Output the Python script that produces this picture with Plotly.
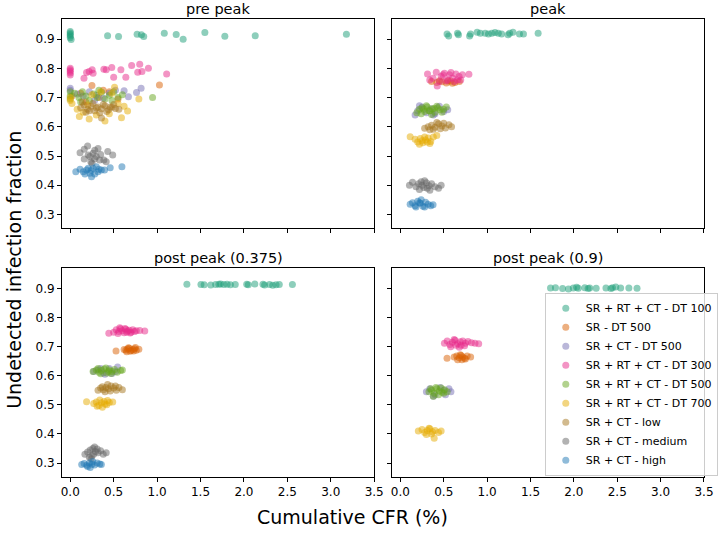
import plotly.graph_objects as go

# ---------------- categories / ticks ----------------
SERIES = ["SR + RT + CT - DT 100", "SR - DT 500", "SR + CT - DT 500",
          "SR + RT + CT - DT 300", "SR + RT + CT - DT 500", "SR + RT + CT - DT 700",
          "SR + CT - low", "SR + CT - medium", "SR + CT - high"]
COLORS = ["#1b9e77", "#d95f02", "#7570b3", "#e7298a", "#66a61e", "#e6ab02",
          "#a6761d", "#666666", "#1f77b4"]
PANEL_TITLES = ["pre peak", "peak", "post peak (0.375)", "post peak (0.9)"]
X_TICKS = [0.0, 0.5, 1.0, 1.5, 2.0, 2.5, 3.0, 3.5]
Y_TICKS = [0.3, 0.4, 0.5, 0.6, 0.7, 0.8, 0.9]

# ---------------- pre peak ----------------
pre_dt100_x = [0.0, 0.0, 0.0, 0.0, 0.0, 0.01, 0.43, 0.556, 0.77, 0.82, 0.846, 1.083, 1.22, 1.30, 1.55, 1.78, 2.13, 3.18]
pre_dt100_y = [0.926, 0.921, 0.916, 0.911, 0.905, 0.899, 0.912, 0.909, 0.917, 0.915, 0.909, 0.92, 0.916, 0.90, 0.923, 0.91, 0.912, 0.917]
pre_sr500_x = [0.02, 0.12, 0.25, 0.33, 0.45, 0.55, 1.027, 0.18, 0.38]
pre_sr500_y = [0.705, 0.715, 0.741, 0.70, 0.72, 0.695, 0.743, 0.685, 0.725]
pre_ct500_x = [0.0, 0.0, 0.08, 0.15, 0.22, 0.30, 0.38, 0.45, 0.52, 0.62, 0.67, 0.763, 0.816, 0.28]
pre_ct500_y = [0.732, 0.725, 0.712, 0.705, 0.72, 0.708, 0.698, 0.715, 0.725, 0.723, 0.703, 0.717, 0.732, 0.69]
pre_dt300_x = [0.0, 0.0, 0.0, 0.0, 0.0, 0.158, 0.188, 0.218, 0.252, 0.263, 0.387, 0.414, 0.478, 0.50, 0.583, 0.64, 0.707, 0.777, 0.80, 0.826, 0.90, 1.11]
pre_dt300_y = [0.80, 0.795, 0.79, 0.784, 0.777, 0.766, 0.786, 0.789, 0.795, 0.783, 0.797, 0.795, 0.803, 0.77, 0.795, 0.77, 0.81, 0.787, 0.814, 0.789, 0.80, 0.781]
pre_rt500_x = [0.0, 0.0, 0.0, 0.05, 0.10, 0.14, 0.18, 0.22, 0.27, 0.31, 0.36, 0.40, 0.45, 0.50, 0.55, 0.60, 0.948, 0.12, 0.33, 0.48]
pre_rt500_y = [0.72, 0.705, 0.695, 0.715, 0.70, 0.72, 0.705, 0.69, 0.712, 0.70, 0.718, 0.695, 0.708, 0.72, 0.70, 0.71, 0.70, 0.685, 0.725, 0.69]
pre_dt700_x = [0.0, 0.0, 0.02, 0.105, 0.218, 0.40, 0.59, 0.66, 0.79, 0.51, 0.08, 0.15, 0.30, 0.45, 0.55, 0.62, 0.25, 0.35, 0.20, 0.48]
pre_dt700_y = [0.70, 0.69, 0.68, 0.635, 0.627, 0.62, 0.631, 0.654, 0.695, 0.735, 0.66, 0.65, 0.64, 0.645, 0.68, 0.67, 0.71, 0.72, 0.675, 0.715]
pre_low_x = [0.12, 0.16, 0.2, 0.24, 0.28, 0.32, 0.36, 0.40, 0.44, 0.48, 0.52, 0.56, 0.18, 0.26, 0.34, 0.42, 0.50, 0.22, 0.30, 0.38, 0.46, 0.36, 0.14]
pre_low_y = [0.665, 0.675, 0.66, 0.67, 0.655, 0.668, 0.662, 0.672, 0.658, 0.667, 0.663, 0.66, 0.65, 0.68, 0.648, 0.652, 0.676, 0.655, 0.665, 0.676, 0.668, 0.63, 0.685]
pre_med_x = [0.113, 0.161, 0.20, 0.207, 0.237, 0.263, 0.282, 0.30, 0.32, 0.339, 0.387, 0.414, 0.432, 0.489, 0.161, 0.226, 0.25, 0.35, 0.28]
pre_med_y = [0.511, 0.523, 0.534, 0.503, 0.48, 0.509, 0.52, 0.498, 0.526, 0.486, 0.486, 0.48, 0.515, 0.503, 0.49, 0.498, 0.475, 0.505, 0.49]
pre_high_x = [0.064, 0.113, 0.15, 0.188, 0.226, 0.245, 0.263, 0.30, 0.32, 0.358, 0.395, 0.282, 0.207, 0.169, 0.46, 0.595, 0.24, 0.33]
pre_high_y = [0.446, 0.455, 0.446, 0.452, 0.441, 0.429, 0.458, 0.463, 0.446, 0.452, 0.452, 0.438, 0.458, 0.438, 0.46, 0.463, 0.45, 0.455]

# ---------------- peak ----------------
pk_dt100_x = [0.538, 0.557, 0.659, 0.67, 0.798, 0.809, 0.885, 0.922, 0.978, 1.016, 1.054, 1.091, 1.129, 1.167, 1.242, 1.26, 1.298, 1.373, 1.419, 1.588]
pk_dt100_y = [0.918, 0.911, 0.92, 0.915, 0.911, 0.918, 0.924, 0.92, 0.92, 0.918, 0.92, 0.923, 0.92, 0.918, 0.915, 0.92, 0.924, 0.918, 0.918, 0.92]
pk_sr500_x = [0.36, 0.42, 0.48, 0.53, 0.58, 0.63, 0.68, 0.45, 0.55, 0.60]
pk_sr500_y = [0.755, 0.752, 0.754, 0.750, 0.756, 0.752, 0.755, 0.758, 0.757, 0.749]
pk_ct500_x = [0.17, 0.20, 0.25, 0.30, 0.35, 0.40, 0.45, 0.50, 0.546, 0.22, 0.38]
pk_ct500_y = [0.64, 0.655, 0.668, 0.648, 0.662, 0.645, 0.67, 0.652, 0.658, 0.672, 0.64]
pk_dt300_x = [0.313, 0.339, 0.414, 0.425, 0.471, 0.508, 0.527, 0.565, 0.602, 0.64, 0.677, 0.715, 0.79, 0.377, 0.452, 0.546, 0.621, 0.49, 0.583, 0.659, 0.696]
pk_dt300_y = [0.781, 0.76, 0.787, 0.74, 0.772, 0.783, 0.757, 0.778, 0.766, 0.781, 0.772, 0.778, 0.78, 0.766, 0.755, 0.76, 0.755, 0.778, 0.786, 0.76, 0.76]
pk_rt500_x = [0.19, 0.22, 0.25, 0.28, 0.31, 0.34, 0.37, 0.40, 0.43, 0.46, 0.50, 0.53, 0.24, 0.30, 0.36, 0.42, 0.48, 0.27, 0.33, 0.39]
pk_rt500_y = [0.648, 0.66, 0.665, 0.652, 0.668, 0.655, 0.662, 0.65, 0.665, 0.658, 0.66, 0.668, 0.645, 0.672, 0.642, 0.67, 0.65, 0.66, 0.655, 0.663]
pk_dt700_x = [0.113, 0.17, 0.2, 0.23, 0.26, 0.29, 0.32, 0.35, 0.38, 0.42, 0.22, 0.28, 0.34, 0.25, 0.31]
pk_dt700_y = [0.566, 0.557, 0.548, 0.56, 0.545, 0.555, 0.562, 0.55, 0.565, 0.57, 0.54, 0.565, 0.543, 0.552, 0.548]
pk_low_x = [0.28, 0.32, 0.36, 0.40, 0.44, 0.48, 0.52, 0.56, 0.59, 0.34, 0.42, 0.50, 0.38, 0.46]
pk_low_y = [0.595, 0.6, 0.605, 0.598, 0.61, 0.603, 0.596, 0.607, 0.6, 0.59, 0.615, 0.612, 0.592, 0.593]
pk_med_x = [0.105, 0.14, 0.18, 0.21, 0.24, 0.27, 0.30, 0.33, 0.36, 0.40, 0.44, 0.47, 0.22, 0.28, 0.34, 0.25, 0.31]
pk_med_y = [0.40, 0.41, 0.395, 0.405, 0.412, 0.392, 0.408, 0.398, 0.405, 0.395, 0.39, 0.40, 0.385, 0.415, 0.383, 0.40, 0.39]
pk_high_x = [0.113, 0.14, 0.17, 0.20, 0.23, 0.26, 0.29, 0.32, 0.35, 0.377, 0.18, 0.24, 0.28, 0.22]
pk_high_y = [0.335, 0.34, 0.33, 0.345, 0.338, 0.328, 0.342, 0.335, 0.33, 0.333, 0.325, 0.35, 0.325, 0.34]

# ---------------- post peak (0.375) ----------------
p1_dt100_x = [1.343, 1.505, 1.542, 1.618, 1.674, 1.712, 1.731, 1.768, 1.806, 1.844, 1.90, 2.032, 2.05, 2.125, 2.219, 2.238, 2.295, 2.332, 2.37, 2.407, 2.558]
p1_dt100_y = [0.915, 0.914, 0.913, 0.912, 0.914, 0.915, 0.916, 0.914, 0.915, 0.913, 0.914, 0.915, 0.913, 0.916, 0.915, 0.912, 0.914, 0.911, 0.913, 0.914, 0.914]
p1_sr500_x = [0.527, 0.62, 0.64, 0.66, 0.68, 0.70, 0.72, 0.74, 0.76, 0.79, 0.65, 0.69, 0.73, 0.67, 0.75]
p1_sr500_y = [0.685, 0.69, 0.688, 0.692, 0.695, 0.687, 0.69, 0.693, 0.688, 0.691, 0.683, 0.684, 0.685, 0.696, 0.697]
p1_ct500_x = [0.27, 0.32, 0.38, 0.45, 0.52, 0.545, 0.40, 0.35, 0.48]
p1_ct500_y = [0.615, 0.62, 0.61, 0.625, 0.615, 0.63, 0.605, 0.625, 0.608]
p1_dt300_x = [0.444, 0.50, 0.53, 0.56, 0.58, 0.60, 0.62, 0.64, 0.66, 0.68, 0.70, 0.72, 0.74, 0.76, 0.80, 0.858, 0.55, 0.63, 0.69, 0.57, 0.65]
p1_dt300_y = [0.746, 0.75, 0.758, 0.752, 0.762, 0.755, 0.748, 0.76, 0.754, 0.757, 0.75, 0.758, 0.752, 0.755, 0.756, 0.754, 0.745, 0.763, 0.747, 0.765, 0.75]
p1_rt500_x = [0.263, 0.30, 0.33, 0.36, 0.39, 0.42, 0.45, 0.48, 0.51, 0.54, 0.58, 0.60, 0.35, 0.41, 0.47, 0.32, 0.44]
p1_rt500_y = [0.615, 0.62, 0.612, 0.618, 0.623, 0.61, 0.62, 0.615, 0.622, 0.612, 0.618, 0.62, 0.607, 0.627, 0.608, 0.625, 0.615]
p1_dt700_x = [0.188, 0.27, 0.30, 0.33, 0.36, 0.39, 0.42, 0.45, 0.489, 0.31, 0.37, 0.43, 0.34, 0.40]
p1_dt700_y = [0.511, 0.505, 0.51, 0.498, 0.507, 0.512, 0.5, 0.508, 0.51, 0.495, 0.492, 0.515, 0.517, 0.503]
p1_low_x = [0.32, 0.35, 0.38, 0.41, 0.44, 0.47, 0.50, 0.53, 0.56, 0.60, 0.40, 0.46, 0.52, 0.43, 0.37]
p1_low_y = [0.55, 0.558, 0.552, 0.56, 0.555, 0.565, 0.558, 0.55, 0.56, 0.552, 0.545, 0.548, 0.565, 0.57, 0.562]
p1_med_x = [0.169, 0.20, 0.23, 0.26, 0.29, 0.32, 0.35, 0.38, 0.414, 0.22, 0.28, 0.25, 0.31, 0.24, 0.27]
p1_med_y = [0.33, 0.338, 0.345, 0.35, 0.34, 0.335, 0.342, 0.33, 0.335, 0.32, 0.355, 0.325, 0.348, 0.315, 0.33]
p1_high_x = [0.132, 0.16, 0.19, 0.22, 0.25, 0.28, 0.31, 0.34, 0.358, 0.20, 0.26, 0.23]
p1_high_y = [0.295, 0.298, 0.292, 0.3, 0.296, 0.293, 0.3, 0.297, 0.295, 0.288, 0.305, 0.285]

# ---------------- post peak (0.9) ----------------
p2_dt100_x = [1.731, 1.788, 1.87, 1.938, 1.994, 2.032, 2.051, 2.126, 2.164, 2.183, 2.257, 2.37, 2.427, 2.445, 2.483, 2.539, 2.634, 2.728]
p2_dt100_y = [0.902, 0.903, 0.9, 0.898, 0.902, 0.904, 0.901, 0.903, 0.9, 0.902, 0.901, 0.902, 0.9, 0.903, 0.905, 0.902, 0.902, 0.901]
p2_sr500_x = [0.538, 0.62, 0.65, 0.68, 0.70, 0.72, 0.74, 0.77, 0.81, 0.66, 0.71, 0.75, 0.69]
p2_sr500_y = [0.66, 0.665, 0.668, 0.662, 0.67, 0.665, 0.66, 0.668, 0.665, 0.655, 0.655, 0.658, 0.672]
p2_ct500_x = [0.30, 0.34, 0.40, 0.46, 0.52, 0.56, 0.583, 0.38, 0.50]
p2_ct500_y = [0.545, 0.555, 0.535, 0.56, 0.535, 0.555, 0.545, 0.53, 0.55]
p2_dt300_x = [0.508, 0.54, 0.57, 0.60, 0.63, 0.66, 0.69, 0.72, 0.75, 0.78, 0.82, 0.86, 0.903, 0.58, 0.64, 0.70, 0.62, 0.74, 0.68]
p2_dt300_y = [0.712, 0.72, 0.708, 0.715, 0.722, 0.71, 0.717, 0.72, 0.712, 0.718, 0.714, 0.712, 0.71, 0.7, 0.705, 0.705, 0.725, 0.703, 0.698]
p2_rt500_x = [0.33, 0.36, 0.39, 0.42, 0.45, 0.48, 0.51, 0.54, 0.38, 0.44, 0.50, 0.35, 0.41, 0.47]
p2_rt500_y = [0.545, 0.55, 0.54, 0.555, 0.548, 0.543, 0.552, 0.545, 0.53, 0.535, 0.54, 0.555, 0.56, 0.558]
p2_dt700_x = [0.207, 0.25, 0.28, 0.31, 0.34, 0.37, 0.40, 0.44, 0.47, 0.30, 0.36, 0.33, 0.39]
p2_dt700_y = [0.41, 0.415, 0.405, 0.412, 0.418, 0.408, 0.412, 0.405, 0.41, 0.398, 0.4, 0.42, 0.385]

# table built from the lists above: panel -> list of (x, y) per series (None = absent)
PANELS = [
    [(pre_dt100_x, pre_dt100_y), (pre_sr500_x, pre_sr500_y), (pre_ct500_x, pre_ct500_y),
     (pre_dt300_x, pre_dt300_y), (pre_rt500_x, pre_rt500_y), (pre_dt700_x, pre_dt700_y),
     (pre_low_x, pre_low_y), (pre_med_x, pre_med_y), (pre_high_x, pre_high_y)],
    [(pk_dt100_x, pk_dt100_y), (pk_sr500_x, pk_sr500_y), (pk_ct500_x, pk_ct500_y),
     (pk_dt300_x, pk_dt300_y), (pk_rt500_x, pk_rt500_y), (pk_dt700_x, pk_dt700_y),
     (pk_low_x, pk_low_y), (pk_med_x, pk_med_y), (pk_high_x, pk_high_y)],
    [(p1_dt100_x, p1_dt100_y), (p1_sr500_x, p1_sr500_y), (p1_ct500_x, p1_ct500_y),
     (p1_dt300_x, p1_dt300_y), (p1_rt500_x, p1_rt500_y), (p1_dt700_x, p1_dt700_y),
     (p1_low_x, p1_low_y), (p1_med_x, p1_med_y), (p1_high_x, p1_high_y)],
    [(p2_dt100_x, p2_dt100_y), (p2_sr500_x, p2_sr500_y), (p2_ct500_x, p2_ct500_y),
     (p2_dt300_x, p2_dt300_y), (p2_rt500_x, p2_rt500_y), (p2_dt700_x, p2_dt700_y),
     None, None, None],
]

FONT = "DejaVu Sans"
X_DOMAINS = [[0.0, 0.4863], [0.5142, 1.0], [0.0, 0.4863], [0.5142, 1.0]]
Y_DOMAINS = [[0.5427, 1.0], [0.5427, 1.0], [0.0, 0.4553], [0.0, 0.4553]]
X_RANGE = [-0.095, 3.5]
Y_RANGE = [0.252, 0.969]

fig = go.Figure()
layout = {}
for p in range(4):
    sfx = "" if p == 0 else str(p + 1)
    for s, entry in enumerate(PANELS[p]):
        if entry is None:
            continue
        xs, ys = entry
        fig.add_trace(go.Scatter(
            x=xs, y=ys, mode="markers", name=SERIES[s],
            xaxis="x" + sfx, yaxis="y" + sfx,
            marker=dict(color=COLORS[s], size=7, opacity=0.5, line=dict(width=0)),
            showlegend=(p == 0)))
    layout["xaxis" + sfx] = dict(
        domain=X_DOMAINS[p], range=X_RANGE, anchor="y" + sfx,
        tickvals=X_TICKS, ticktext=["%.1f" % v for v in X_TICKS],
        showticklabels=(p >= 2), ticks="outside", ticklen=4, tickcolor="black",
        showline=True, linecolor="black", linewidth=1, mirror=True,
        showgrid=False, zeroline=False,
        tickfont=dict(family=FONT, size=12, color="black"))
    layout["yaxis" + sfx] = dict(
        domain=Y_DOMAINS[p], range=Y_RANGE, anchor="x" + sfx,
        tickvals=Y_TICKS, ticktext=["%.1f" % v for v in Y_TICKS],
        showticklabels=(p % 2 == 0), ticks="outside", ticklen=4, tickcolor="black",
        showline=True, linecolor="black", linewidth=1, mirror=True,
        showgrid=False, zeroline=False,
        tickfont=dict(family=FONT, size=12, color="black"))

annotations = []
for p in range(4):
    annotations.append(dict(
        text=PANEL_TITLES[p], xref="paper", yref="paper",
        x=sum(X_DOMAINS[p]) / 2, y=Y_DOMAINS[p][1], xanchor="center", yanchor="bottom",
        yshift=1, borderpad=0, showarrow=False,
        font=dict(family=FONT, size=14.5, color="black")))
annotations.append(dict(
    text="Cumulative CFR (%)", xref="paper", yref="paper", x=0.452, y=-0.087,
    xanchor="center", yanchor="middle", showarrow=False,
    font=dict(family=FONT, size=19, color="black")))
annotations.append(dict(
    text="Undetected infection fraction", xref="paper", yref="paper", x=-0.076, y=0.4527,
    xanchor="center", yanchor="middle", textangle=-90, showarrow=False,
    font=dict(family=FONT, size=19, color="black")))

fig.update_layout(
    width=728, height=539,
    margin=dict(l=62, r=10, t=19, b=62),
    paper_bgcolor="white", plot_bgcolor="white",
    annotations=annotations,
    legend=dict(x=0.752, y=0.003, xanchor="left", yanchor="bottom",
                bgcolor="rgba(255,255,255,0.8)", bordercolor="#cccccc", borderwidth=1,
                tracegroupgap=0, itemwidth=30,
                font=dict(family=FONT, size=11, color="black"), itemsizing="trace"),
    **layout)

fig.write_html("out.html")
